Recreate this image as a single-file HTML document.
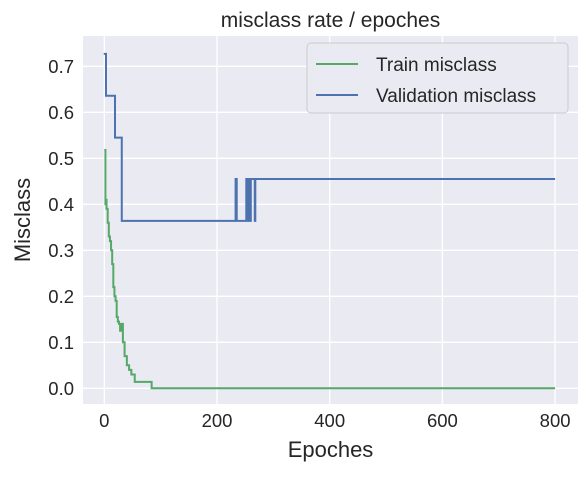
<!DOCTYPE html>
<html><head><meta charset="utf-8"><style>
body{margin:0;background:#fff;}
text{font-family:"Liberation Sans","DejaVu Sans",sans-serif;fill:#262626;}
</style></head><body>
<svg width="587" height="476">
<g id="plot"></g>
</svg>
<script>
const trainEpochs=[0,2,3,4,6,8,10,12,14,16,18,20,22,24,26,28,30,31,33,36,40,44,48,54,84,800];
const trainValues=[0.518,0.40,0.41,0.39,0.36,0.33,0.32,0.30,0.27,0.22,0.20,0.19,0.155,0.145,0.14,0.125,0.13,0.14,0.10,0.07,0.05,0.04,0.03,0.014,0.0,0.0];
const valEpochs=[-1,3,19,31,233,235,252,254,256,258,260,267,268,800];
const valValues=[0.727,0.636,0.545,0.364,0.455,0.364,0.455,0.364,0.455,0.364,0.455,0.364,0.455,0.455];
const xTicks=[0,200,400,600,800];
const yTicks=[0.0,0.1,0.2,0.3,0.4,0.5,0.6,0.7];
const L=83,R=578,T=36,B=404;
const xs=v=>104.3+v*0.5635;
const ys=v=>388.3-v*460;
const ns="http://www.w3.org/2000/svg";
const g=document.getElementById('plot');
function mk(t,a,p){const e=document.createElementNS(ns,t);for(const k in a)e.setAttribute(k,a[k]);(p||g).appendChild(e);return e;}
const bg=mk('rect',{x:L,y:T,width:R-L,height:B-T,fill:'#eaeaf2'});


xTicks.forEach(v=>{
 const l=mk('line',{x1:xs(v),x2:xs(v),y1:T,y2:B,stroke:'#fff','stroke-width':1.3});
 
 
 const t=mk('text',{x:xs(v),y:B+23,'text-anchor':'middle','font-size':18.5});
 t.textContent=v;
 
 
});
yTicks.forEach(v=>{
 const l=mk('line',{x1:L,x2:R,y1:ys(v),y2:ys(v),stroke:'#fff','stroke-width':1.3});
 
 
 const t=mk('text',{x:L-9,y:ys(v)+6.5,'text-anchor':'end','font-size':18.5});
 t.textContent=v.toFixed(1);
 
 
});
function stepPath(xsArr,ysArr){let d='';for(let i=0;i<xsArr.length;i++){const X=xs(xsArr[i]),Y=ys(ysArr[i]);if(i===0)d+='M'+X+' '+Y;else{d+=' L'+X+' '+ys(ysArr[i-1])+' L'+X+' '+Y;}}return d;}
const pt=mk('path',{d:stepPath(trainEpochs,trainValues),fill:'none',stroke:'#55a868','stroke-width':2});


const pv=mk('path',{d:stepPath(valEpochs,valValues),fill:'none',stroke:'#4c72b0','stroke-width':2});


const lg=mk('g',{});


mk('rect',{x:307,y:43,width:261,height:70,rx:4,fill:'#eaeaf2',stroke:'#ccc','stroke-width':1},lg);
mk('line',{x1:316,x2:358,y1:64,y2:64,stroke:'#55a868','stroke-width':2},lg);
mk('line',{x1:316,x2:358,y1:95,y2:95,stroke:'#4c72b0','stroke-width':2},lg);
const l1=mk('text',{x:376,y:71,'font-size':19},lg);l1.textContent='Train misclass';


const l2=mk('text',{x:376,y:102,'font-size':19},lg);l2.textContent='Validation misclass';


const tt=mk('text',{x:(L+R)/2,y:27,'text-anchor':'middle','font-size':21});tt.textContent='misclass rate / epoches';


const xt=mk('text',{x:(L+R)/2,y:457,'text-anchor':'middle','font-size':22});xt.textContent='Epoches';


const yt=mk('text',{x:0,y:0,'text-anchor':'middle','font-size':22,transform:'translate(30,'+((T+B)/2)+') rotate(-90)'});yt.textContent='Misclass';


</script>
</body></html>
